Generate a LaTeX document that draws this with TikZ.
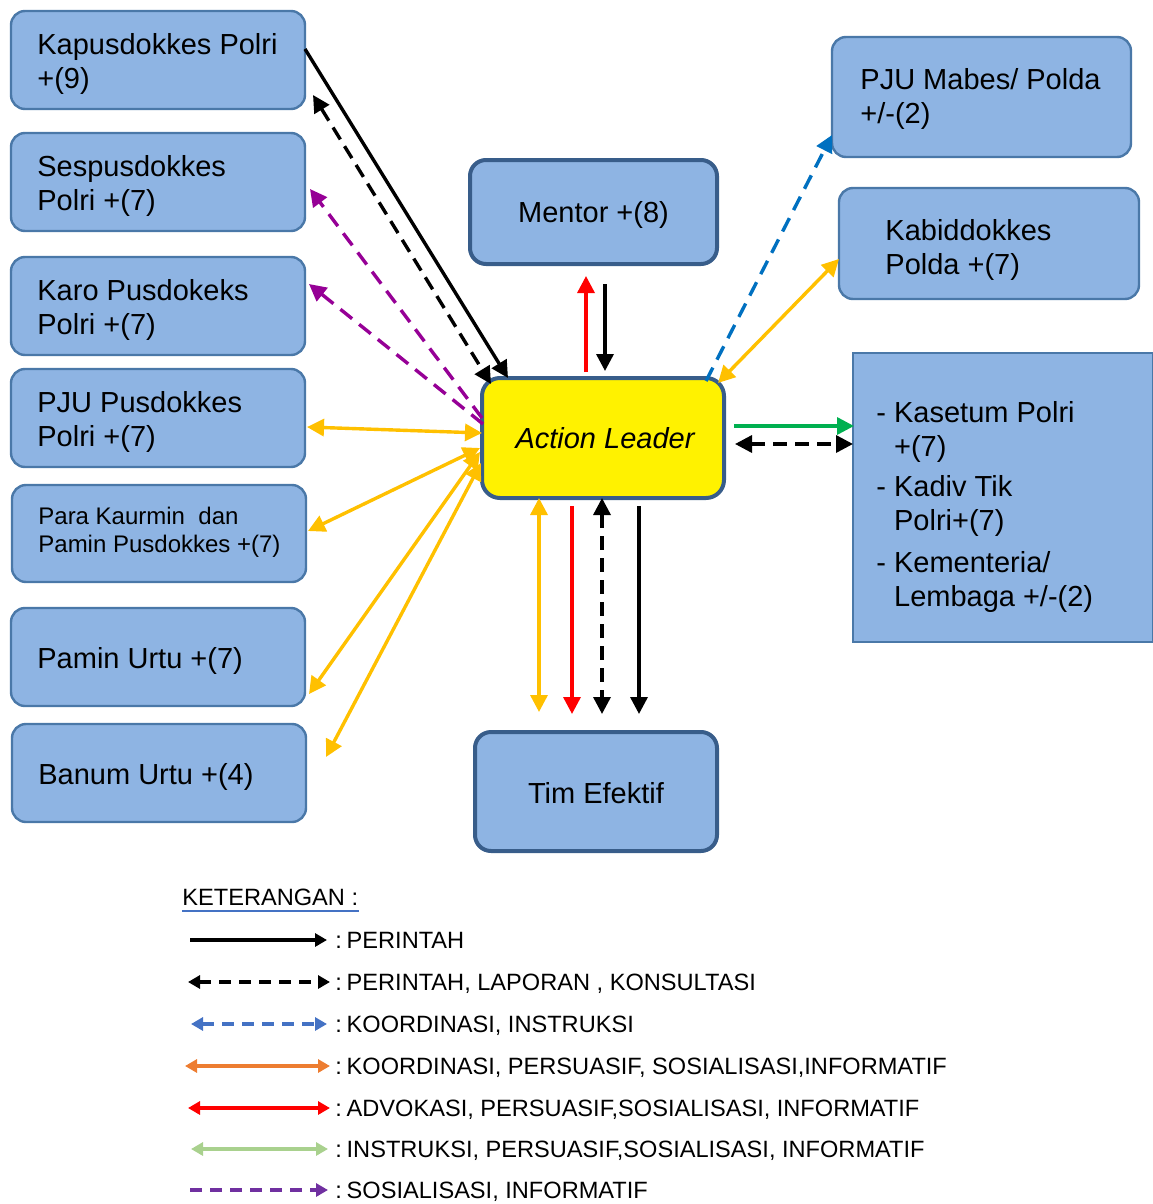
\documentclass[tikz,border=0pt]{standalone}
\usepackage{fontspec}
\setmainfont{Liberation Sans}
\usetikzlibrary{arrows.meta,calc}
\definecolor{boxfill}{HTML}{8EB4E3}
\definecolor{boxthin}{HTML}{4A78A8}
\definecolor{boxthick}{HTML}{385D8A}
\definecolor{aorange}{HTML}{FFC000}
\definecolor{ablue}{HTML}{0070C0}
\definecolor{apurple}{HTML}{960096}
\definecolor{agreen}{HTML}{00B050}
\definecolor{ared}{HTML}{FF0000}
\definecolor{lblue}{HTML}{4472C4}
\definecolor{lorange}{HTML}{ED7D31}
\definecolor{lgreen}{HTML}{A9D18E}
\definecolor{lpurple}{HTML}{7030A0}
\begin{document}
\begin{tikzpicture}[x=0.5pt,y=-0.5pt,
  mainfont/.style={font=\fontsize{14.5}{17}\selectfont},
  lbox/.style={draw=boxthin, line width=1.2pt, fill=boxfill, rounded corners=7pt,
    minimum width=147pt, minimum height=49pt, inner sep=0pt},
  cbox/.style={draw=boxthick, line width=2pt, fill=boxfill, rounded corners=8pt, inner sep=0pt},
  rbox/.style={draw=boxthin, line width=1.2pt, fill=boxfill, rounded corners=7pt, inner sep=0pt},
  btext/.style={anchor=west, align=left, inner sep=0pt, mainfont},
  ctext/.style={anchor=center, align=center, inner sep=0pt, mainfont},
  arr/.style={line width=1.7pt, -{Triangle[length=8.5pt,width=8.5pt]}},
  darr/.style={line width=1.7pt, {Triangle[length=8.5pt,width=8.5pt]}-{Triangle[length=8.5pt,width=8.5pt]}},
  dsh/.style={dash pattern=on 7pt off 4pt},
  cdsh/.style={dash pattern=on 7.5pt off 4.5pt},
  larr/.style={line width=1.7pt, -{Triangle[length=6pt,width=6.5pt]}},
  ldarr/.style={line width=1.7pt, {Triangle[length=6pt,width=6.5pt]}-{Triangle[length=6pt,width=6.5pt]}},
  ldsh/.style={dash pattern=on 6pt off 4pt},
  legtext/.style={anchor=base west, inner sep=0pt, font=\fontsize{11.8}{14}\selectfont},
]
\useasboundingbox (0,0) rectangle (1152,1204);

% left boxes
\node[lbox] (kap) at (158,60) {};
\node[btext] (kapt) at (37,64) {Kapusdokkes Polri\\+(9)};
\node[lbox] (ses) at (158,182) {};
\node[btext] (sest) at (37,186) {Sespusdokkes\\Polri +(7)};
\node[lbox] (karo) at (158,306) {};
\node[btext] (karot) at (37,310) {Karo Pusdokeks\\Polri +(7)};
\node[lbox] (pju) at (158,418) {};
\node[btext] (pjut) at (37,422) {PJU Pusdokkes\\Polri +(7)};
\node[lbox, minimum height=48.5pt] (para) at (159,533.5) {};
\node[btext, font=\fontsize{12}{14}\selectfont] (parat) at (38,532) {Para Kaurmin\ \ dan\\Pamin Pusdokkes +(7)};
\node[lbox] (pamin) at (158,657) {};
\node[btext] (pamint) at (37,661) {Pamin Urtu +(7)};
\node[lbox] (banum) at (159,773) {};
\node[btext] (banumt) at (38,777) {Banum Urtu +(4)};

% centre boxes
\node[cbox, minimum width=123.5pt, minimum height=52pt] (mentor) at (593.5,212) {};
\node[ctext] (mentort) at (593.5,215) {Mentor +(8)};
\node[cbox, fill=yellow, minimum width=121pt, minimum height=60pt, rounded corners=9pt] (al) at (603,438) {};
\node[ctext, font=\fontsize{14.5}{17}\selectfont\itshape] (alt) at (605,438) {Action Leader};
\node[cbox, minimum width=121pt, minimum height=59.5pt] (tim) at (596,791.5) {};
\node[ctext] (timt) at (596,793) {Tim Efektif};

% right boxes
\node[rbox, minimum width=149.5pt, minimum height=60pt] (mabes) at (981.5,97) {};
\node[btext] (mabest) at (860,99) {PJU Mabes/ Polda\\+/-(2)};
\node[rbox, minimum width=150pt, minimum height=55.5pt] (kabid) at (989,243.5) {};
\node[btext] (kabidt) at (885,250) {Kabiddokkes\\Polda +(7)};
\node[draw=boxthin, line width=1.2pt, fill=boxfill, minimum width=150pt, minimum height=144.5pt] (kasbox) at (1003,497.5) {};
\node[btext] (kastext) at (876,508) {%
  \begin{tabular}{@{}l@{\ }l@{}}
  - & Kasetum Polri\\
    & +(7)\\[3pt]
  - & Kadiv Tik\\
    & Polri+(7)\\[4pt]
  - & Kementeria/\\
    & Lembaga +/-(2)
  \end{tabular}};

% connector end points
\coordinate (k1) at (305,49);   \coordinate (a1) at (508,378);
\coordinate (k2) at (313,95);   \coordinate (a2) at (491,384);
\coordinate (s1) at (310,189);  \coordinate (a3) at (482,418);
\coordinate (r1) at (309,284);  \coordinate (a4) at (483,424);
\coordinate (p1) at (307,427);  \coordinate (a5) at (482,433);
\coordinate (q1) at (308,531);  \coordinate (a6) at (480,448);
\coordinate (u1) at (309,694);  \coordinate (a7) at (480,452);
\coordinate (b1) at (326,757);  \coordinate (a8) at (481,463);
\coordinate (m1) at (586,276);  \coordinate (a9) at (586,372);
\coordinate (m2) at (605,284);  \coordinate (a10) at (605,371);
\coordinate (t1) at (539,712);  \coordinate (a11) at (539,498);
\coordinate (t2) at (572,714);  \coordinate (a12) at (572,506);
\coordinate (t3) at (602,714);  \coordinate (a13) at (602,498);
\coordinate (t4) at (639,714);  \coordinate (a14) at (639,506);
\coordinate (mb1) at (832,135); \coordinate (a15) at (706,381);
\coordinate (kb1) at (839,259); \coordinate (a16) at (718,383);
\coordinate (ks1) at (854,426); \coordinate (a17) at (734,426);
\coordinate (ks2) at (853,444); \coordinate (a18) at (735,444);

% connectors
\draw[arr] (k1) -- (a1);
\draw[darr, dsh] (k2) -- (a2);
\draw[arr, cdsh, apurple] (a3) -- (s1);
\draw[arr, cdsh, apurple] (a4) -- (r1);
\draw[darr, aorange] (a5) -- (p1);
\draw[darr, aorange] (a6) -- (q1);
\draw[darr, aorange] (a7) -- (u1);
\draw[darr, aorange] (a8) -- (b1);
\draw[arr, ared] (a9) -- (m1);
\draw[arr] (m2) -- (a10);
\draw[darr, aorange] (a11) -- (t1);
\draw[arr, ared] (a12) -- (t2);
\draw[darr, dsh] (a13) -- (t3);
\draw[arr] (a14) -- (t4);
\draw[arr, cdsh, ablue] (a15) -- (mb1);
\draw[darr, aorange] (a16) -- (kb1);
\draw[arr, agreen] (a17) -- (ks1);
\draw[darr, dsh] (a18) -- (ks2);

% legend
\node[legtext] (ket) at (182,905) {KETERANGAN :};
\draw[lblue, line width=0.7pt] ($(ket.base west)+(0,6)$) -- ($(ket.base east)+(0,6)$);

\coordinate (l1a) at (190,940);  \coordinate (l1b) at (327,940);
\coordinate (l2a) at (188,982);  \coordinate (l2b) at (330,982);
\coordinate (l3a) at (191,1024); \coordinate (l3b) at (327,1024);
\coordinate (l4a) at (185,1066); \coordinate (l4b) at (330,1066);
\coordinate (l5a) at (188,1108); \coordinate (l5b) at (330,1108);
\coordinate (l6a) at (191,1149); \coordinate (l6b) at (328,1149);
\coordinate (l7a) at (190,1190); \coordinate (l7b) at (328,1190);

\draw[larr] (l1a) -- (l1b);
\draw[ldarr, ldsh] (l2a) -- (l2b);
\draw[ldarr, lblue, ldsh] (l3a) -- (l3b);
\draw[ldarr, lorange] (l4a) -- (l4b);
\draw[ldarr, ared] (l5a) -- (l5b);
\draw[ldarr, lgreen] (l6a) -- (l6b);
\draw[larr, lpurple, ldsh] (l7a) -- (l7b);

\node[legtext] (t1l) at (335,948) {:\hspace{0.2em}PERINTAH};
\node[legtext] (t2l) at (335,990) {:\hspace{0.2em}PERINTAH, LAPORAN , KONSULTASI};
\node[legtext] (t3l) at (335,1032) {:\hspace{0.2em}KOORDINASI, INSTRUKSI};
\node[legtext] (t4l) at (335,1074) {:\hspace{0.2em}KOORDINASI, PERSUASIF, SOSIALISASI,INFORMATIF};
\node[legtext] (t5l) at (335,1116) {:\hspace{0.2em}ADVOKASI, PERSUASIF,SOSIALISASI, INFORMATIF};
\node[legtext] (t6l) at (335,1157) {:\hspace{0.2em}INSTRUKSI, PERSUASIF,SOSIALISASI, INFORMATIF};
\node[legtext] (t7l) at (335,1198) {:\hspace{0.2em}SOSIALISASI, INFORMATIF};
\end{tikzpicture}
\end{document}
